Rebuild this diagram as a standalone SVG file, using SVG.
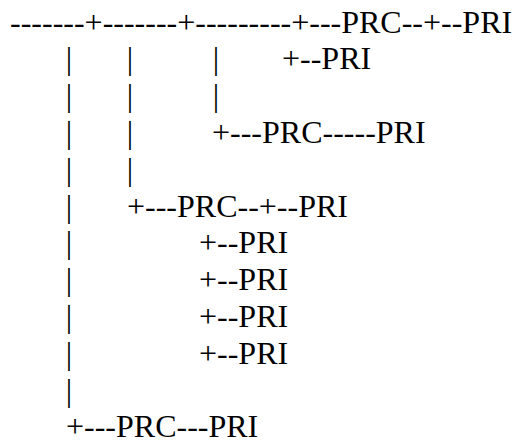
<svg xmlns="http://www.w3.org/2000/svg" width="526" height="441" viewBox="0 0 526 441">
<style>
.t{font-family:"Liberation Serif","Times New Roman",serif;font-size:32px;fill:#000;}
</style>
<rect width="526" height="441" fill="#fff"/>
<g id="connectors" class="t">
<text x="10" y="32.5">-------+-------+---------+---PRC--+--PRI</text>
<text y="69.3"><tspan x="65.8">|</tspan><tspan x="126.8">|</tspan><tspan x="212.8">|</tspan><tspan x="282">+--PRI</tspan></text>
<text y="106.1"><tspan x="65.8">|</tspan><tspan x="126.8">|</tspan><tspan x="212.8">|</tspan></text>
<text y="142.9"><tspan x="65.8">|</tspan><tspan x="126.8">|</tspan><tspan x="212">+---PRC-----PRI</tspan></text>
<text y="179.7"><tspan x="65.8">|</tspan><tspan x="126.8">|</tspan></text>
<text y="216.5"><tspan x="65.8">|</tspan><tspan x="127">+---PRC--+--PRI</tspan></text>
<text y="253.3"><tspan x="65.8">|</tspan><tspan x="199">+--PRI</tspan></text>
<text y="290.1"><tspan x="65.8">|</tspan><tspan x="199">+--PRI</tspan></text>
<text y="326.9"><tspan x="65.8">|</tspan><tspan x="199">+--PRI</tspan></text>
<text y="363.7"><tspan x="65.8">|</tspan><tspan x="199">+--PRI</tspan></text>
<text y="400.5"><tspan x="65.8">|</tspan></text>
<text y="437.3"><tspan x="66">+---PRC---PRI</tspan></text>
</g>
</svg>
